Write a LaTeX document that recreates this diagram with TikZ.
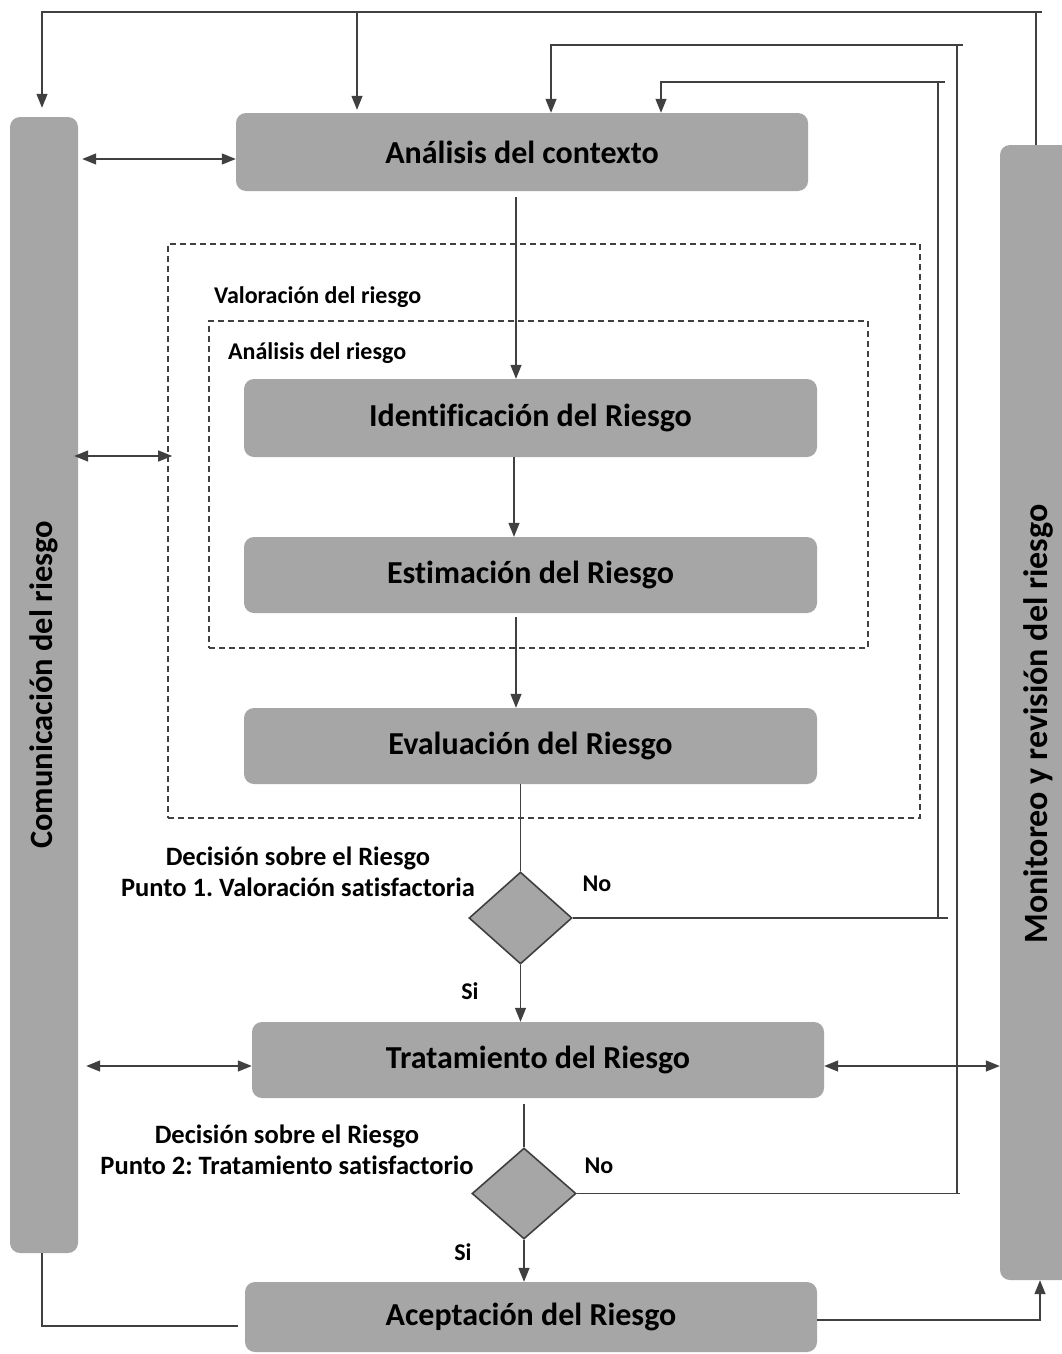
\documentclass[tikz,border=0pt]{standalone}
\usepackage{fontspec}
\setmainfont{Carlito}[Ligatures=NoCommon]
\usetikzlibrary{arrows.meta,shapes.geometric}
\definecolor{boxgray}{HTML}{A6A6A6}
\definecolor{linegray}{HTML}{404040}
\frenchspacing
\begin{document}
\frenchspacing
\begin{tikzpicture}[x=1pt,y=-1pt,
  box/.style={fill=boxgray, draw=none, rounded corners=10pt, inner sep=0pt, font=\bfseries\fontsize{32}{36}\selectfont},
  bar/.style={fill=boxgray, draw=none, rounded corners=10pt, inner sep=0pt},
  bartext/.style={rotate=90, inner sep=0pt},
  dbox/.style={draw=linegray, line width=1.6pt, dash pattern=on 6pt off 4pt, inner sep=0pt},
  dec/.style={diamond, fill=boxgray, draw=linegray, line width=1.6pt, inner sep=0pt},
  lbl/.style={font=\bfseries\fontsize{24}{28}\selectfont, inner sep=0pt},
  declbl/.style={font=\bfseries\fontsize{26.5}{31.5}\selectfont, align=center, inner sep=0pt},
  conn/.style={draw=linegray, line width=1.3pt},
  arr/.style={conn, -{Triangle[length=14pt,width=11pt]}},
  dbl/.style={conn, {Triangle[length=14pt,width=11pt]}-{Triangle[length=14pt,width=11pt]}}
]
\useasboundingbox (0,0) rectangle (1061,1354);
\fill[white] (0,0) rectangle (1061,1354);

% side bars
\node[bar, minimum width=68pt, minimum height=1136pt] (com) at (44,685) {};
\node[bartext, font=\bfseries\fontsize{32.5}{36}\selectfont] (comt) at (com.center) {Comunicación del riesgo};
\node[bar, minimum width=80pt, minimum height=1135pt] (mon) at (1040,712.5) {};
\node[bartext, font=\bfseries\fontsize{34}{38}\selectfont] (mont) at (1038,724) {Monitoreo y revisión del riesgo};

% dashed groups
\node[dbox, minimum width=752pt, minimum height=574pt] (val) at (544,531) {};
\node[dbox, minimum width=659pt, minimum height=327pt] (ana) at (538.5,484.5) {};
\node[lbl, anchor=west] (valt) at (214,297) {Valoración del riesgo};
\node[lbl, anchor=west] (anat) at (228,353) {Análisis del riesgo};

% process boxes
\node[box, minimum width=572pt, minimum height=78pt] (ctx) at (522,152) {Análisis del contexto};
\node[box, minimum width=573pt, minimum height=78pt] (idf) at (530.5,418) {Identificación del Riesgo};
\node[box, minimum width=573pt, minimum height=76pt] (est) at (530.5,575) {Estimación del Riesgo};
\node[box, minimum width=573pt, minimum height=76pt] (eva) at (530.5,746) {Evaluación del Riesgo};
\node[box, minimum width=572pt, minimum height=76pt] (trt) at (538,1060) {Tratamiento del Riesgo};
\node[box, minimum width=572pt, minimum height=70pt] (acp) at (531,1317) {Aceptación del Riesgo};

% decisions
\node[dec, minimum width=103pt, minimum height=92pt] (d1) at (520.5,918) {};
\node[dec, minimum width=104pt, minimum height=91pt] (d2) at (524,1193.5) {};
\node[declbl] (d1t) at (298,872) {Decisión sobre el Riesgo\\Punto 1. Valoración satisfactoria};
\node[declbl] (d2t) at (287,1150) {Decisión sobre el Riesgo\\Punto 2: Tratamiento satisfactorio};
\node[lbl] (no1) at (597,884) {No};
\node[lbl] (si1) at (470,991) {Si};
\node[lbl] (no2) at (599,1166) {No};
\node[lbl] (si2) at (463,1252) {Si};

% main flow
\coordinate (p1) at ([xshift=-6pt]ctx.south);
\draw[arr, shorten <=6pt] (p1) -- (p1 |- idf.north);
\coordinate (p2) at ([xshift=-16.5pt]idf.south);
\draw[arr] (p2) -- (p2 |- est.north);
\coordinate (p3) at ([xshift=-14.5pt]est.south);
\draw[arr, shorten <=4pt] (p3) -- (p3 |- eva.north);
\draw[conn] (d1.north |- eva.south) -- (d1.north);
\draw[arr] (d1.south) -- (d1.south |- trt.north);
\draw[conn, shorten <=6pt] (d2.north |- trt.south) -- (d2.north);
\draw[arr] (d2.south) -- (d2.south |- acp.north);

% communication links
\coordinate (yA) at (0,159);
\draw[dbl, shorten <=4pt] (com.east |- yA) -- (ctx.west |- yA);
\coordinate (yB) at (0,456);
\draw[dbl, shorten <=-4pt, shorten >=-5pt] (com.east |- yB) -- (val.west |- yB);
\coordinate (yC) at (0,1066);
\draw[dbl, shorten <=8pt] (com.east |- yC) -- (trt.west |- yC);
\draw[dbl] (trt.east |- yC) -- (mon.west |- yC);

% feedback loops
\coordinate (r1) at (938,82);
\draw[conn] (d1.east) -- ++(375,0);
\draw[arr] (r1 |- d1.east) -- (r1) -| ([xshift=139pt]ctx.north);
\draw[conn] (r1) -- ++(7,0);
\coordinate (r2) at (957,45);
\draw[conn] (d2.east) -- ++(383,0);
\draw[arr] (r2 |- d2.east) -- (r2) -| ([xshift=29pt]ctx.north);
\draw[conn] (r2) -- ++(6,0);
\coordinate (r3) at (1036,12);
\coordinate (m3) at ([xshift=-4pt]mon.north);
\draw[conn] (m3) -- (m3 |- r3) -- ++(6,0);
\draw[arr, shorten >=9pt] (m3 |- r3) -| ([xshift=-2pt]com.north);
\draw[arr, shorten >=3pt] ([xshift=-165pt]ctx.north |- r3) -- ([xshift=-165pt]ctx.north);

% bottom links
\coordinate (b1) at ([xshift=-2pt]com.south);
\draw[conn, shorten >=7pt] (b1) |- ([yshift=-9pt]acp.west);
\coordinate (b2) at ([yshift=-3pt]acp.east);
\draw[arr] (b2) -| (mon.south);
\end{tikzpicture}
\end{document}
